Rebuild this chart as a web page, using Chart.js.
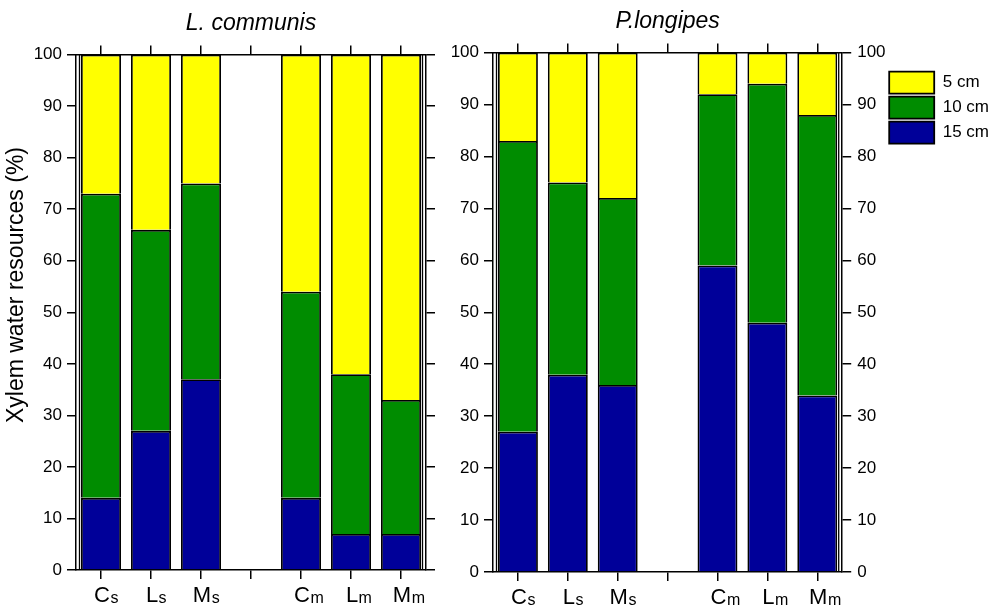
<!DOCTYPE html>
<html>
<head>
<meta charset="utf-8">
<script src="https://cdn.jsdelivr.net/npm/chart.js@4.4.1/dist/chart.umd.min.js"></script>
<style>
  html, body { margin: 0; padding: 0; background: #fff; }
  #wrap { position: relative; width: 995px; height: 610px; overflow: hidden; }
  #wrap canvas { position: absolute; top: 0; }
</style>
</head>
<body>
<div id="wrap">
  <canvas id="leftChart" width="445" height="610" style="left:0"></canvas>
  <canvas id="rightChart" width="580" height="610" style="left:430px"></canvas>
</div>
<script>
// categories (subscript after the first letter)
const categories = ['Cs', 'Ls', 'Ms', '', 'Cm', 'Lm', 'Mm'];
const yTicks = [0, 10, 20, 30, 40, 50, 60, 70, 80, 90, 100];
const seriesNames = ['15 cm', '10 cm', '5 cm'];

// L. communis (%)
const lcDepth15 = [14, 27, 37, null, 14, 7, 7];
const lcDepth10 = [59, 39, 38, null, 40, 31, 26];
const lcDepth5 = [27, 34, 25, null, 46, 62, 67];

// P.longipes (%)
const plDepth15 = [27, 38, 36, null, 59, 48, 34];
const plDepth10 = [56, 37, 36, null, 33, 46, 54];
const plDepth5 = [17, 25, 28, null, 8, 6, 12];

const colors = ['#000099', '#008C00', '#FFFF00'];
const FONT = "'Liberation Sans', Arial, sans-serif";

Chart.defaults.font.family = FONT;
Chart.defaults.color = '#000';

/**
 * double line just inside the left/right frame
 */
const innerFramePlugin = {
  id: 'innerFrame',
  afterDraw(chart) {
    const { ctx, chartArea } = chart;
    ctx.save();
    ctx.strokeStyle = '#000';
    ctx.lineWidth = 1.3;
    [chartArea.left + 3.5, chartArea.right - 3.5].forEach(x => {
      ctx.beginPath();
      ctx.moveTo(x, chartArea.top);
      ctx.lineTo(x, chartArea.bottom);
      ctx.stroke();
    });
    ctx.restore();
  }
};

/**
 * x labels with subscript (Cs -> C + small s)
 */
const subLabelPlugin = {
  id: 'subLabels',
  afterDraw(chart) {
    const { ctx, chartArea } = chart;
    const xScale = chart.scales.x;
    const y = chartArea.bottom + 32;
    ctx.save();
    ctx.fillStyle = '#000';
    ctx.textAlign = 'left';
    ctx.textBaseline = 'alphabetic';
    categories.forEach((label, i) => {
      if (!label) return;
      const x = xScale.getPixelForValue(i);
      const main = label[0];
      const sub = label.slice(1);
      ctx.font = '22px ' + FONT;
      const w = ctx.measureText(main).width;
      ctx.fillText(main, x - w / 2 + 1, y);
      ctx.font = '16px ' + FONT;
      ctx.fillText(sub, x + w / 2 + 1.5, y + 1);
    });
    ctx.restore();
  }
};

/**
 * y axis title (left panel only)
 */
const yTitlePlugin = {
  id: 'yTitle',
  afterDraw(chart, args, opts) {
    if (!opts.text) return;
    const { ctx } = chart;
    ctx.save();
    ctx.translate(opts.x, opts.y);
    ctx.rotate(-Math.PI / 2);
    ctx.font = opts.size + 'px ' + FONT;
    ctx.fillStyle = '#000';
    ctx.textAlign = 'center';
    ctx.textBaseline = 'middle';
    ctx.fillText(opts.text, 0, 0);
    ctx.restore();
  }
};

function axisGrid() {
  return {
    drawOnChartArea: false,
    drawTicks: true,
    tickLength: 9,
    color: '#000',
    lineWidth: 1.5,
    offset: false
  };
}

function axisBorder() {
  return { display: true, color: '#000', width: 1.5 };
}

/**
 * build one panel
 */
function makePanel(canvasId, title, d15, d10, d5, cfg) {
  const ctx = document.getElementById(canvasId);
  return new Chart(ctx, {
    type: 'bar',
    data: {
      labels: categories,
      datasets: [d15, d10, d5].map((data, i) => ({
        label: seriesNames[i],
        data: data,
        backgroundColor: colors[i],
        borderColor: '#000',
        borderWidth: 1.8,
        categoryPercentage: 1.0,
        barPercentage: 0.8
      }))
    },
    options: {
      responsive: false,
      animation: false,
      layout: { padding: cfg.padding },
      plugins: {
        title: {
          display: true,
          text: title,
          fullSize: false,
          color: '#000',
          font: { size: 23, style: 'italic', weight: 'normal' },
          padding: cfg.titlePadding
        },
        legend: cfg.legend,
        tooltip: { enabled: false },
        yTitle: cfg.yTitle
      },
      scales: {
        x: {
          position: 'bottom',
          stacked: true,
          grid: axisGrid(),
          border: axisBorder(),
          ticks: { display: false }
        },
        x2: {
          type: 'category',
          position: 'top',
          labels: categories,
          grid: axisGrid(),
          border: axisBorder(),
          ticks: { display: false }
        },
        y: {
          position: 'left',
          stacked: true,
          min: 0,
          max: 100,
          afterBuildTicks: s => { s.ticks = yTicks.map(v => ({ value: v })); },
          afterFit: s => { s.width = 43; },
          grid: axisGrid(),
          border: axisBorder(),
          ticks: { font: { size: 17 }, padding: 5, color: '#000' }
        },
        y2: {
          position: 'right',
          min: 0,
          max: 100,
          afterBuildTicks: s => { s.ticks = yTicks.map(v => ({ value: v })); },
          afterFit: s => { s.width = cfg.rightWidth; },
          grid: axisGrid(),
          border: axisBorder(),
          ticks: { display: cfg.rightLabels, font: { size: 17 }, padding: 6, color: '#000' }
        }
      }
    },
    plugins: [innerFramePlugin, subLabelPlugin, yTitlePlugin]
  });
}

makePanel('leftChart', 'L. communis', lcDepth15, lcDepth10, lcDepth5, {
  padding: { left: 33, right: 10, top: 0, bottom: 31 },
  titlePadding: { top: 10, bottom: 8 },
  legend: { display: false },
  rightLabels: false,
  rightWidth: 9,
  yTitle: { text: 'Xylem water resources (%)', x: 17, y: 285, size: 23 }
});

makePanel('rightChart', 'P.longipes', plDepth15, plDepth10, plDepth5, {
  padding: { left: 20, right: 11, top: 0, bottom: 29 },
  titlePadding: { top: 8, bottom: 8 },
  legend: {
    display: true,
    position: 'right',
    align: 'start',
    fullSize: false,
    reverse: true,
    maxWidth: 130,
    title: { display: true, text: ' ', font: { size: 10 }, padding: { top: 4, bottom: 0 } },
    labels: {
      boxWidth: 45,
      boxHeight: 22,
      padding: 3,
      color: '#000',
      font: { size: 17 }
    }
  },
  rightLabels: true,
  rightWidth: 44,
  yTitle: { text: '' }
});
</script>
</body>
</html>
